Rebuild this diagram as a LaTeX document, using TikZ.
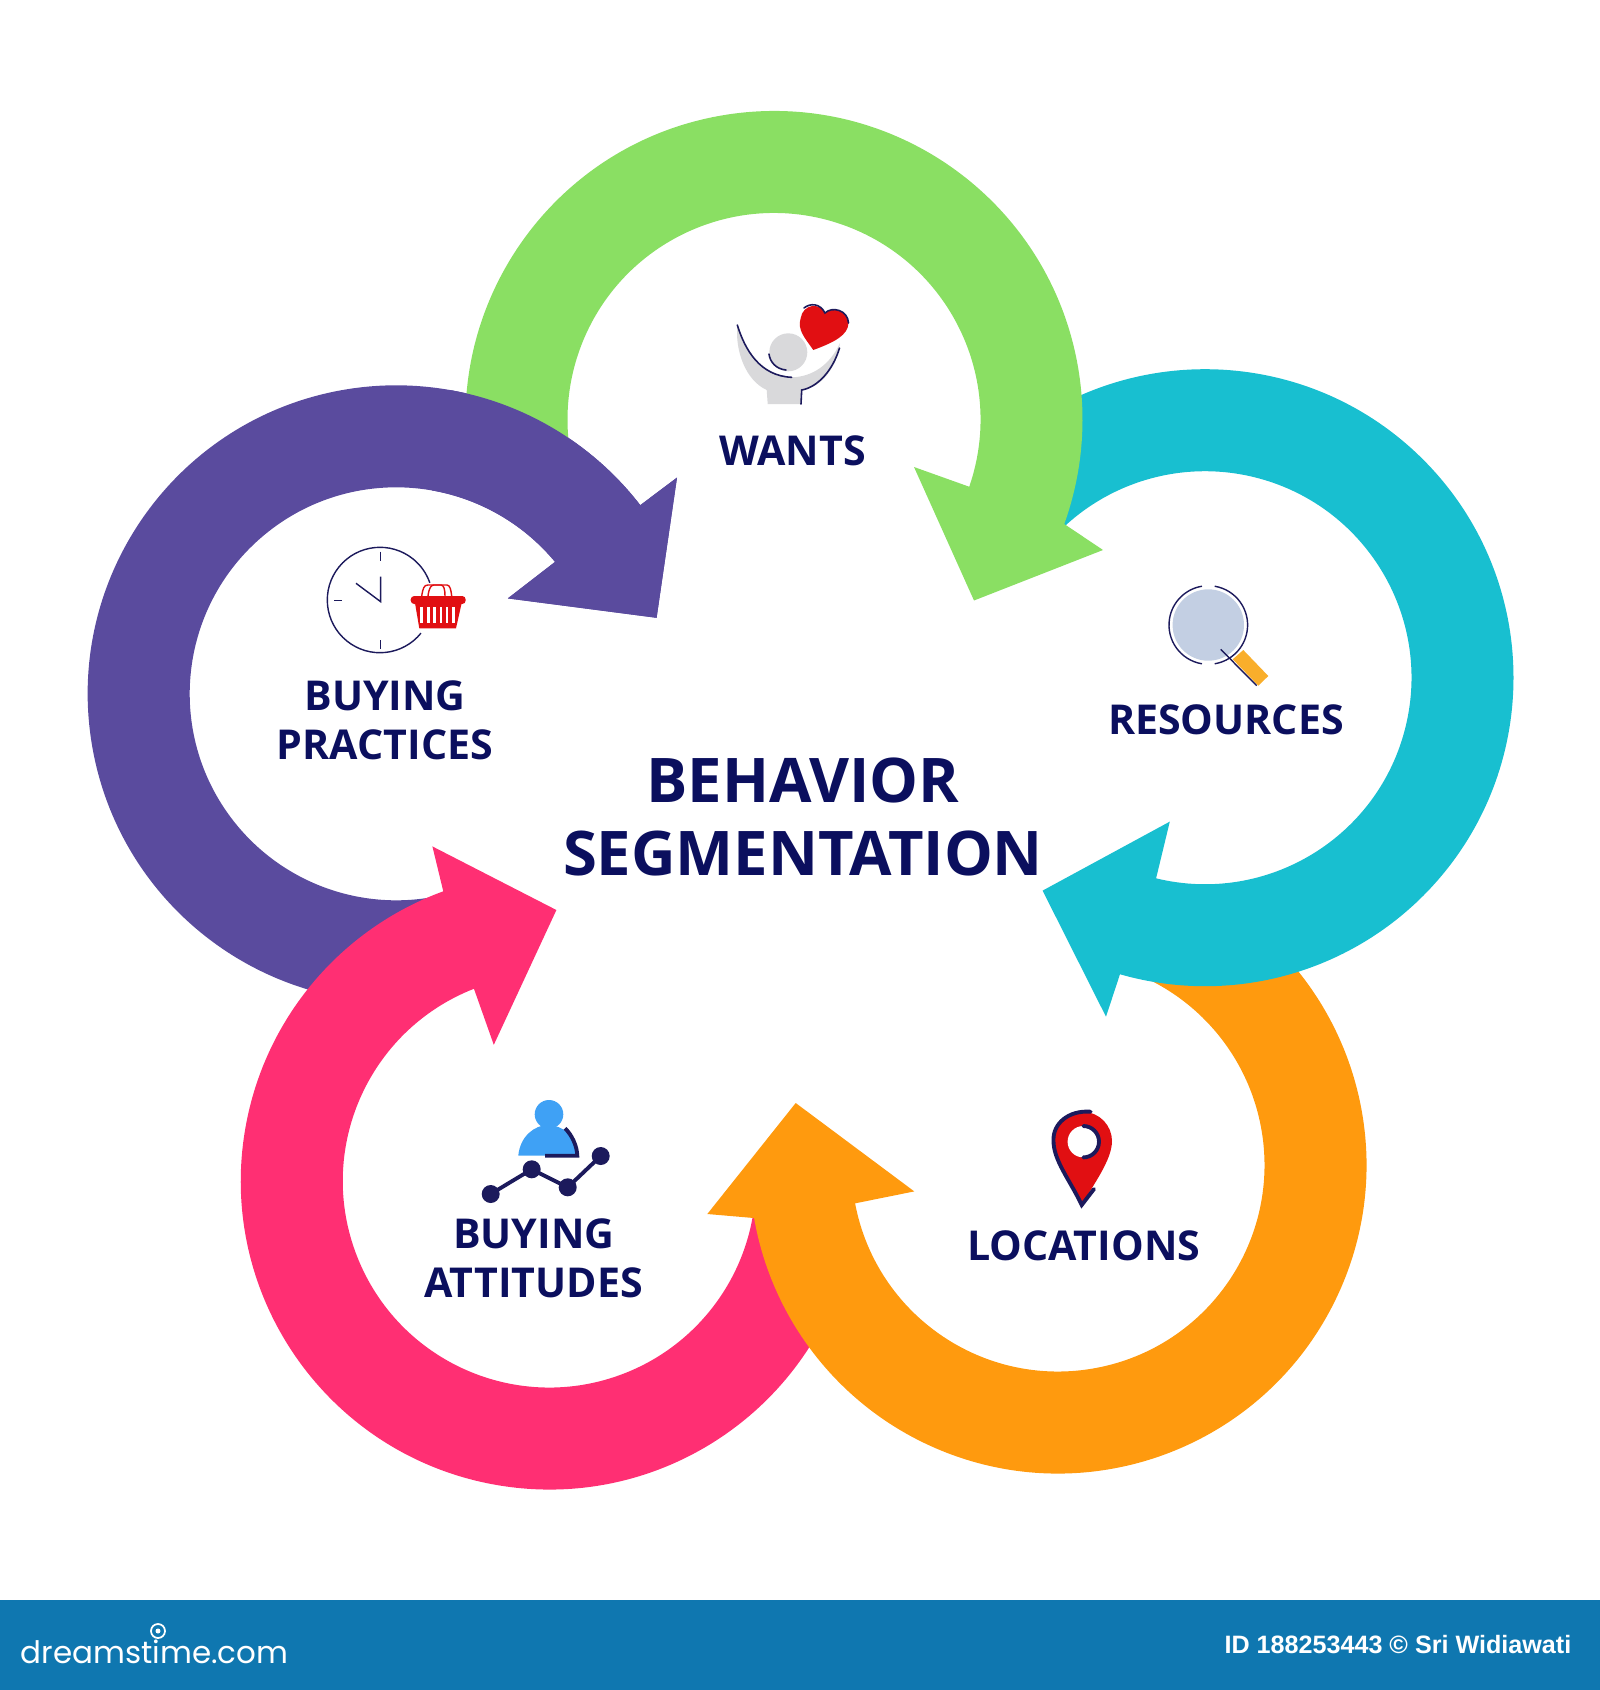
\documentclass[tikz,border=0pt]{standalone}
\usepackage{fontspec}
\setmainfont{Open Sans}
\newfontfamily\bannerfont{Liberation Sans}
\newfontfamily\logofont{Poppins}
\definecolor{wantsgreen}{HTML}{8ADF63}
\definecolor{resourcesteal}{HTML}{18BFD0}
\definecolor{locationsorange}{HTML}{FF9A0E}
\definecolor{attitudespink}{HTML}{FF2F73}
\definecolor{practicespurple}{HTML}{5A4B9E}
\definecolor{titlenavy}{HTML}{0B0F5E}
\definecolor{icondark}{HTML}{1C1A5C}
\definecolor{icongray}{HTML}{D9D9DB}
\definecolor{iconred}{HTML}{E10F12}
\definecolor{iconlens}{HTML}{C3CFE3}
\definecolor{iconhandle}{HTML}{F9AE2B}
\definecolor{iconblue}{HTML}{3FA1F5}
\definecolor{bannerblue}{HTML}{0F77B0}
\tikzset{
  label12/.style={font=\fontsize{11.7}{13.9}\selectfont\bfseries, text=titlenavy, align=center, inner sep=0pt},
  title18/.style={font=\fontsize{17.5}{20.8}\selectfont\bfseries, text=titlenavy, align=center, inner sep=0pt},
  iconline/.style={draw=icondark, line width=0.45pt, line cap=round}
}
\def\outr{308.5}
\def\innr{206.5}
\begin{document}
\begin{tikzpicture}[x=0.01cm, y=-0.01cm]
\useasboundingbox (0,0) rectangle (1600,1690);
\coordinate (wantsc) at (774,419.5);
\coordinate (resourcesc) at (1205,677.7);
\coordinate (locationsc) at (1058,1165);
\coordinate (attitudesc) at (549.3,1181);
\coordinate (practicesc) at (396.2,693.8);
%
\fill[practicespurple] (practicesc) ++(80:\outr) arc[start angle=80, end angle=322.3, radius=\outr]
-- (677,477.6) -- (656.6,617.8) -- (507.8,598.4)
-- ([shift={(320.3:\innr)}]practicesc) arc[start angle=320.3, end angle=80, radius=\innr] -- cycle; % Purple ring
%
\fill[attitudespink] (attitudesc) ++(10:\outr) arc[start angle=10, end angle=249.9, radius=\outr]
-- (432.4,846.4) -- (556.4,910) -- (493.8,1044.8)
-- ([shift={(248.6:\innr)}]attitudesc) arc[start angle=248.6, end angle=8, radius=\innr] -- cycle; % Pink ring
%
\fill[locationsorange] (locationsc) ++(296:\outr) arc[start angle=296, end angle=530.1, radius=\outr]
-- (707.3,1214) -- (795.7,1103) -- (914.3,1191.4)
-- ([shift={(169.3:\innr)}]locationsc) arc[start angle=529.3, end angle=296, radius=\innr] -- cycle; % Orange ring
%
\fill[resourcesteal] (resourcesc) ++(225:\outr) arc[start angle=225, end angle=466, radius=\outr]
-- (1106,1016.7) -- (1042.6,890.6) -- (1169.8,821.6)
-- ([shift={(103.7:\innr)}]resourcesc) arc[start angle=463.7, end angle=225, radius=\innr] -- cycle; % Teal ring
%
\fill[wantsgreen] (wantsc) ++(170:\outr) arc[start angle=170, end angle=379.8, radius=\outr]
-- (1103,550) -- (974,600.5) -- (914,467)
-- ([shift={(19:\innr)}]wantsc) arc[start angle=379, end angle=170, radius=\innr] -- cycle; % Green ring
%
\fill[practicespurple] (practicesc) ++(280:\outr) arc[start angle=280, end angle=322.3, radius=\outr]
-- (677,477.6) -- (656.6,617.8) -- (507.8,598.4)
-- ([shift={(320.3:\innr)}]practicesc) arc[start angle=320.3, end angle=280, radius=\innr] -- cycle; % Purple head again, over the green tail
%
\node[title18] (behavior) at (803,817) {BEHAVIOR\\SEGMENTATION};
\node[label12] (wants) at (792.5,450.7) {WANTS};
\node[label12] (resources) at (1226,720) {RESOURCES};
\node[label12] (locations) at (1083.6,1245.5) {LOCATIONS};
\node[label12] (attitudes) at (533.7,1258) {BUYING\\ATTITUDES};
\node[label12] (practices) at (385,720) {BUYING\\PRACTICES};
%
\fill[icongray] (737.3,325) .. controls (745,350) and (760,376) .. (791.7,377.3)
.. controls (812,377) and (830,365) .. (840,343) .. controls (836,370) and (820,388) .. (801.7,390)
-- (801,404) -- (767.7,404) -- (766.7,390) .. controls (745,380) and (735,350) .. cycle; % Body
\fill[icongray] (788.3,352.3) circle (19);
\draw[iconline] (737.3,325) .. controls (745,350) and (760,376) .. (791.7,377.3);
\draw[iconline] (769,354) .. controls (770,362) and (776,369) .. (786,370);
\draw[iconline] (839.5,348) .. controls (833,370) and (818,387) .. (801.7,390) -- (801,404);
\fill[iconred] (813.3,350) .. controls (805,338) and (797,330) .. (800.7,318)
.. controls (803,304) and (820,302) .. (825,313) .. controls (832,306) and (848,310) .. (848.5,323)
.. controls (848,335) and (835,342) .. cycle; % Heart
\draw[iconline] (804,308) .. controls (810,303) and (820,303) .. (825,313) .. controls (832,306) and (848,310) .. (848.5,323);
%
\draw[icondark, line width=0.4pt] (380,600) ++(39:52.7) arc[start angle=39, end angle=341, radius=52.7]; % Clock
\draw[icondark, line width=0.4pt] (380.7,551.7) -- (380.7,560.7);
\draw[icondark, line width=0.4pt] (380.7,640) -- (380.7,649);
\draw[icondark, line width=0.4pt] (334,600.7) -- (341.7,600.7);
\draw[icondark, line width=0.4pt] (380.7,576.7) -- (380.7,601.7) -- (356,583.3);
\draw[iconred, line width=0.4pt] (421.7,596) .. controls (423,588) and (424,585) .. (428,585) -- (441,585) .. controls (444,585) and (445,590) .. (445,596);
\draw[iconred, line width=0.4pt] (428,596) .. controls (429,588) and (431,585) .. (434,585) -- (447,585) .. controls (450,585) and (451,590) .. (451.7,596);
\fill[iconred] (415,603) -- (461.7,603) -- (456,628.3) -- (419.3,628.3) -- cycle; % Basket
\fill[iconred, rounded corners=1pt] (410.7,596) rectangle (465.7,604);
\draw[white, line width=0.7pt] (421.7,607.3) -- (421.7,622.7) (428.3,607.3) -- (428.3,622.7)
(434.3,607.3) -- (434.3,622.7) (441,607.3) -- (441,622.7) (447,607.3) -- (447,622.7) (453.3,607.3) -- (453.3,622.7);
%
\fill[iconlens] (1208.3,625) circle (35.7);
\fill[iconhandle] (1243.3,650) -- (1268.3,676) -- (1258.3,685.7) -- (1232.7,659.3) -- cycle; % Handle
\draw[icondark, line width=0.4pt] (1208.3,625) ++(279.3:39.3) arc[start angle=279.3, end angle=440.7, radius=39.3];
\draw[icondark, line width=0.4pt] (1208.3,625) ++(99.3:39.3) arc[start angle=99.3, end angle=260.7, radius=39.3];
\draw[icondark, line width=0.4pt] (1220.7,649.3) -- (1256.7,685.7);
%
\fill[iconred] (1081.7,1205) .. controls (1070,1180) and (1053,1160) .. (1053.5,1140)
.. controls (1054,1122) and (1068,1112) .. (1083,1112) .. controls (1100,1112) and (1112,1126) .. (1112,1141)
.. controls (1112,1160) and (1093,1185) .. cycle; % Pin
\fill[white] (1083.3,1141.7) circle (15.7);
\draw[icondark, line width=1.1pt, line cap=round] (1090.7,1111.7) .. controls (1068,1110) and (1053,1124) .. (1053.5,1140)
.. controls (1053,1160) and (1070,1180) .. (1081.7,1205) -- (1094,1189);
\draw[icondark, line width=1.1pt, line cap=round] (1083.3,1126) arc[start angle=270, end angle=450, radius=15.7];
%
\fill[iconblue] (549,1114.3) circle (14.3);
\fill[iconblue] (518.3,1155.7) .. controls (520,1136) and (535,1125) .. (548,1125)
.. controls (562,1125) and (577,1136) .. (578.3,1155.7) -- cycle; % Person
\draw[icondark, line width=1.1pt] (565,1128.3) .. controls (572,1135) and (577,1146) .. (577.3,1155.7) -- (545,1155.7);
\draw[icondark, line width=1.1pt] (490.7,1194) -- (531.7,1169.3) -- (567.7,1187.3) -- (600.7,1156);
\fill[icondark] (490.7,1194) circle (9);
\fill[icondark] (531.7,1169.3) circle (9);
\fill[icondark] (567.7,1187.3) circle (9);
\fill[icondark] (600.7,1156) circle (9);
%
\fill[bannerblue] (0,1600) rectangle (1600,1690);
\node[text=white, anchor=west, inner sep=0pt, font=\logofont\fontsize{8.8}{10}\selectfont] (logo) at (20,1652) {dreamstime.com};
\draw[white, line width=0.5pt] (158,1631) circle (7); % Spiral of the logo
\fill[white] (158,1631) circle (2.5);
\node[text=white, anchor=east, inner sep=0pt, font=\bannerfont\bfseries\fontsize{7.15}{8}\selectfont] (credit) at (1572,1645) {ID 188253443 © Sri Widiawati};
\end{tikzpicture}
\end{document}
